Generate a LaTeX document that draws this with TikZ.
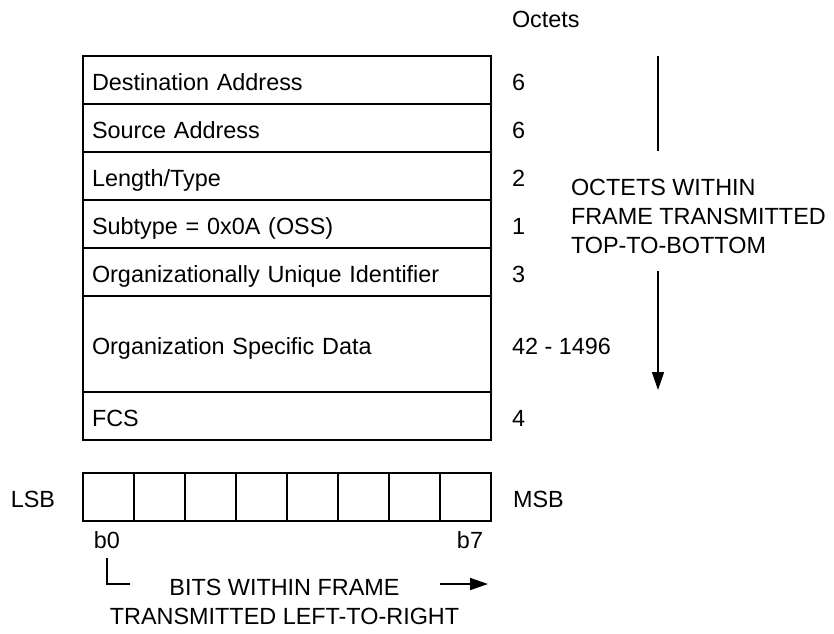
\documentclass[tikz,border=0pt]{standalone}
\usepackage{fontspec}
\setmainfont{Liberation Sans}
\usetikzlibrary{arrows.meta,positioning}
\tikzset{
  every node/.style={inner sep=0pt, outer sep=0pt, font=\fontsize{11.7}{14.5}\selectfont},
  field/.style={draw, line width=0.8pt, text width=195pt, inner xsep=4.5pt, align=left,
    minimum height=24pt, text height=10.5pt, text depth=0pt},
  octets/.style={text height=10.5pt, text depth=0pt},
  bitcell/.style={draw, line width=0.8pt, minimum width=25.5pt, minimum height=24pt},
  flow/.style={line width=0.8pt},
  flowtip/.style={flow, -{Triangle[length=9pt,width=6pt]}},
}

\begin{document}
\begin{tikzpicture}[x=0.5pt, y=-0.5pt]
  \useasboundingbox (0,0) rectangle (834,633);
  % frame fields
  \node[field] (dst) at (287,80) {Destination Address};
  \node[field, below=0pt of dst] (src) {Source Address};
  \node[field, below=0pt of src] (lentype) {Length/Type};
  \node[field, below=0pt of lentype] (subtype) {Subtype = 0x0A (OSS)};
  \node[field, below=0pt of subtype] (oui) {Organizationally Unique Identifier};
  \node[field, below=0pt of oui, minimum height=48pt] (osd) {Organization Specific Data};
  \node[field, below=0pt of osd] (fcs) {FCS};
  % octet counts
  \node[anchor=base west] (octhead) at (512,27) {Octets};
  \foreach \f/\n in {dst/6, src/6, lentype/2, subtype/1, oui/3, osd/42 - 1496, fcs/4}
    \node[octets, right=10.5pt of \f] (n\f) {\n};
  % octet order
  \coordinate (octstart) at (658,56);
  \coordinate (octstop) at (658,151);
  \node[align=left, anchor=west] (octnote) at (571,216) {OCTETS WITHIN\\FRAME TRANSMITTED\\TOP-TO-BOTTOM};
  \coordinate (octresume) at (658,271);
  \coordinate (octend) at (658,390);
  \draw[flow] (octstart) -- (octstop);
  \draw[flowtip] (octresume) -- (octend);
  % bits of one octet
  \foreach \i in {0,...,7}
    \node[bitcell] (bit\i) at ({108.5+51*\i},497) {};
  \node[octets, left=14pt of bit0] (lsb) {LSB};
  \node[octets, right=11pt of bit7] (msb) {MSB};
  \node[anchor=base] (b0) at (107,548) {b0};
  \node[anchor=base] (b7) at (470,548) {b7};
  % bit order
  \coordinate (bitsturn) at (130,584);
  \coordinate (bitsfrom) at (440,584);
  \coordinate (bitsto) at (488,584);
  \draw[flow] ([yshift=-5pt]b0.south) |- (bitsturn);
  \draw[flowtip] (bitsfrom) -- (bitsto);
  \node[align=center] (bitnote) at (284.5,601.5) {BITS WITHIN FRAME\\TRANSMITTED LEFT-TO-RIGHT};
\end{tikzpicture}
\end{document}
